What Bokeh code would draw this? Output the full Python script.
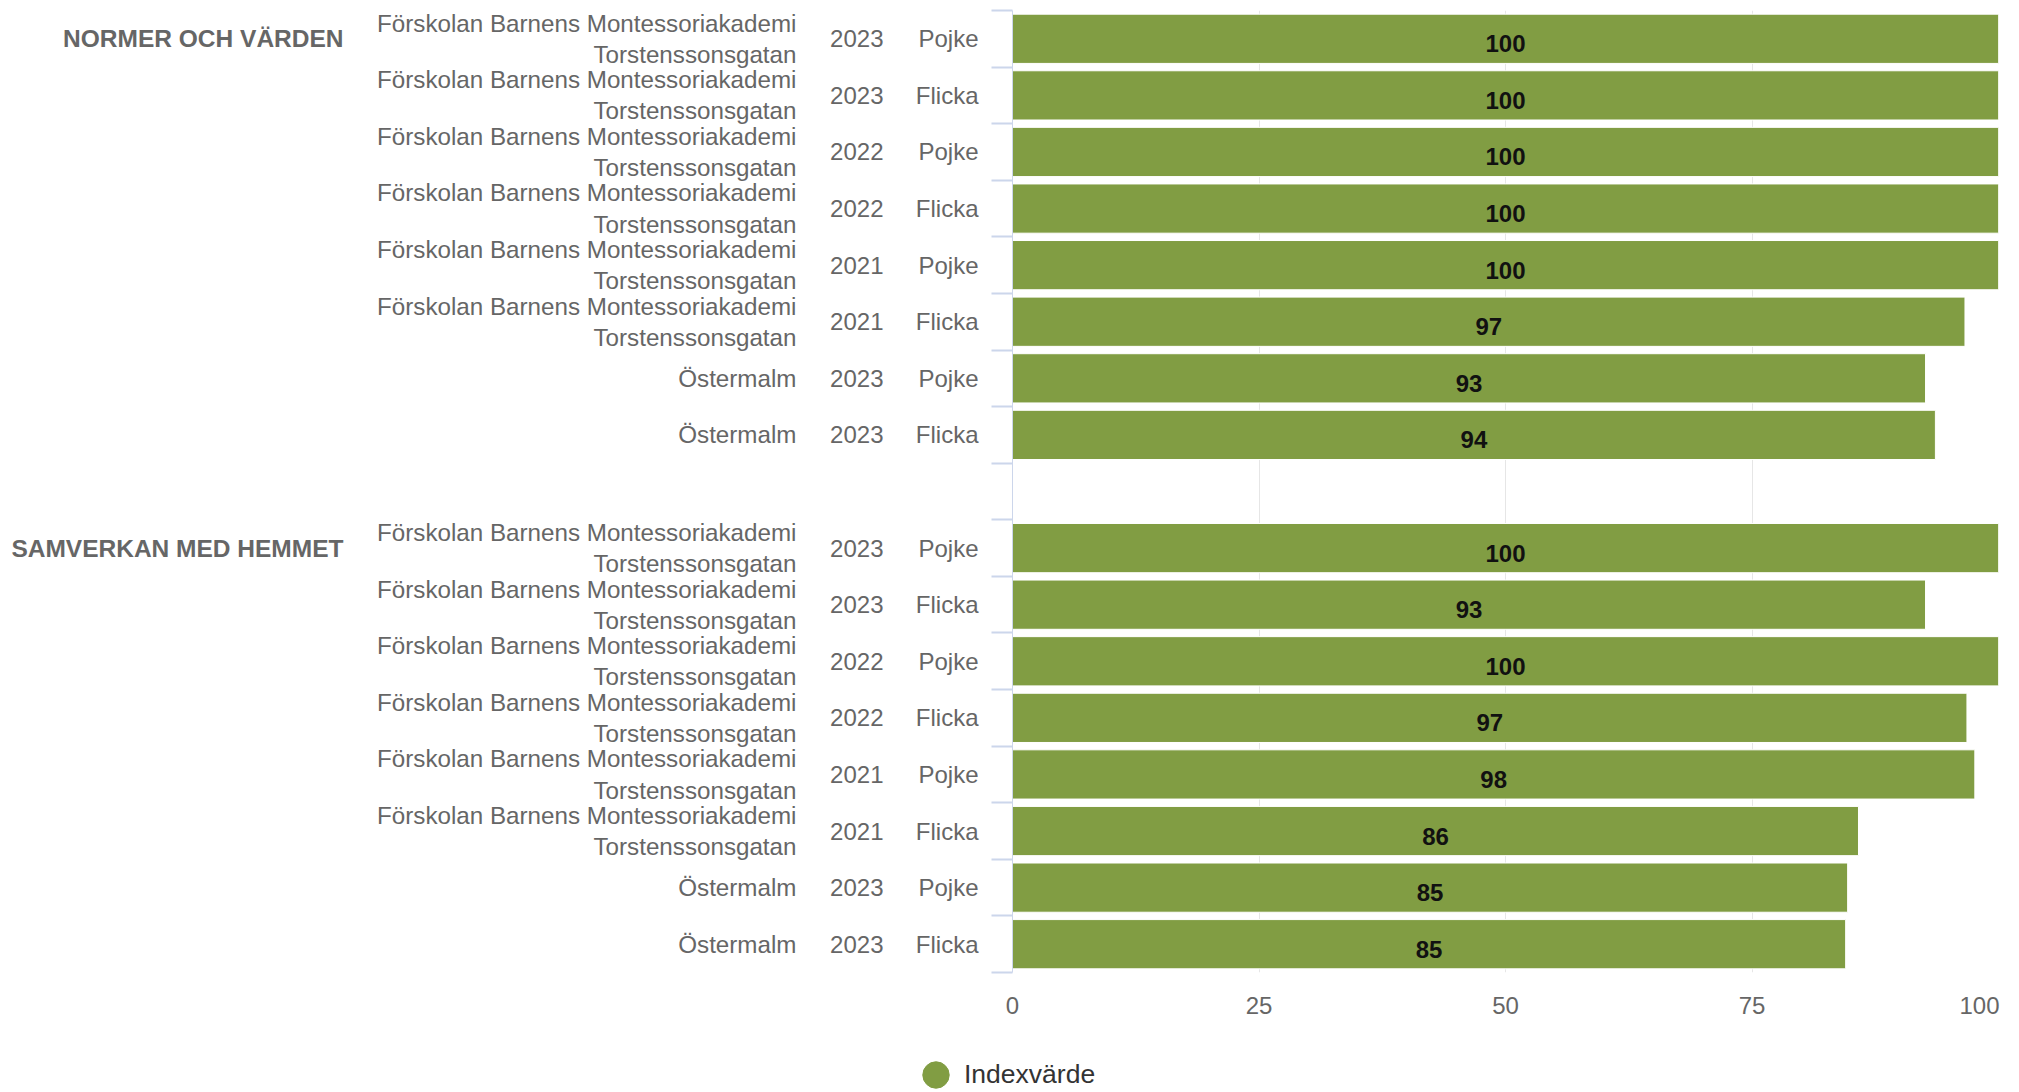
from bokeh.plotting import figure
from bokeh.models import (Range1d, FixedTicker, LinearAxis, Legend, LegendItem,
                          ColumnDataSource, AllLabels)
from bokeh.layouts import column
from bokeh.embed import file_html
from bokeh.resources import INLINE
from bokeh.core.properties import value

# ---------------- data ----------------
group_names = ["NORMER OCH VÄRDEN", "SAMVERKAN MED HEMMET"]
schools = ["Förskolan Barnens Montessoriakademi\nTorstenssonsgatan"] * 6 + ["Östermalm"] * 2
years = ["2023", "2023", "2022", "2022", "2021", "2021", "2023", "2023"]
genders = ["Pojke", "Flicka", "Pojke", "Flicka", "Pojke", "Flicka", "Pojke", "Flicka"]
values_normer = [100, 100, 100, 100, 100, 96.6, 92.6, 93.6]
values_samverkan = [100, 92.6, 100, 96.8, 97.6, 85.8, 84.7, 84.5]
x_ticks = [0, 25, 50, 75, 100]
x_tick_labels = ["0", "25", "50", "75", "100"]
legend_label = "Indexvärde"

GREEN = "#819d43"
LABEL_GRAY = "#666666"
FONT = "Liberation Sans"
SLOT = 10.0
LINE_OFF = 2.75
W = 2019
FRAME_L, FRAME_R = 1012, 21

# ---------------- rows ----------------
ys, vals, lbls = [], [], []
gender_over, year_over, school_over, group_over = {}, {}, {}, {}
school_ticks, group_ticks, bounds = [], [], set()
for g, gvals in enumerate([values_normer, values_samverkan]):
    for i, v in enumerate(gvals):
        slot = g * (len(gvals) + 1) + i
        y = -slot * SLOT
        ys.append(y)
        vals.append(v)
        lbls.append(str(int(v + 0.5)))
        gender_over[y] = genders[i]
        year_over[y] = years[i]
        parts = schools[i].split("\n")
        if len(parts) == 2:
            school_ticks += [y + LINE_OFF, y - LINE_OFF]
            school_over[y + LINE_OFF] = parts[0]
            school_over[y - LINE_OFF] = parts[1]
        else:
            school_ticks.append(y)
            school_over[y] = parts[0]
        if i == 0:
            group_ticks.append(y)
            group_over[y] = group_names[g]
        bounds.add(y + SLOT / 2)
        bounds.add(y - SLOT / 2)

src = ColumnDataSource(dict(y=ys, v=vals, xc=[v / 2 for v in vals], lbl=lbls))

n_slots = len(values_normer) + 1 + len(values_samverkan)
p = figure(width=W, height=1042,
           x_range=Range1d(0, 100),
           y_range=Range1d(-(n_slots - 0.5) * SLOT, SLOT / 2),
           output_backend="svg", toolbar_location=None,
           min_border_left=FRAME_L, min_border_right=FRAME_R, min_border_top=10, min_border_bottom=70)
p.outline_line_color = None
p.background_fill_color = "white"
p.border_fill_color = "white"

# x axis
xa = p.xaxis[0]
xa.ticker = FixedTicker(ticks=x_ticks)
# last label kept inside the chart like the original (it ends at the plot edge)
xa.major_label_overrides = {t: (l if t != x_ticks[-1] else l + "\u00a0" * 3)
                            for t, l in zip(x_ticks, x_tick_labels)}
xa.axis_line_color = None
xa.major_tick_line_color = None
xa.minor_tick_line_color = None
xa.major_tick_out = 0
xa.major_tick_in = 0
xa.major_label_standoff = 19
xa.major_label_text_font = FONT
xa.major_label_text_font_size = "24px"
xa.major_label_text_color = LABEL_GRAY
p.xgrid.grid_line_color = "#e6e6e6"
p.xgrid.grid_line_width = 1
p.ygrid.visible = False

# bars
p.hbar(y="y", left=0, right="v", height=SLOT * 0.87, source=src,
       fill_color=GREEN, line_color="white", line_width=1)
p.text(x="xc", y="y", text="lbl", source=src, text_font=value(FONT), text_font_style="bold",
       text_font_size="24px", text_align="center", text_baseline="middle",
       text_color="#111111", y_offset=5)

# y axes
def style_label_axis(a, over, standoff, size="24px", bold=False):
    a.major_label_overrides = over
    a.major_label_policy = AllLabels()
    a.major_tick_line_color = None
    a.major_tick_out = 0
    a.major_tick_in = 0
    a.major_label_standoff = standoff
    a.major_label_text_font = FONT
    a.major_label_text_font_size = size
    a.major_label_text_color = LABEL_GRAY
    if bold:
        a.major_label_text_font_style = "bold"

ya = p.yaxis[0]
ya.ticker = FixedTicker(ticks=sorted(ys), minor_ticks=sorted(bounds))
style_label_axis(ya, gender_over, 13)
ya.axis_line_color = "#ccd6eb"
ya.minor_tick_line_color = "#ccd6eb"
ya.minor_tick_line_width = 2
ya.minor_tick_out = 21
ya.minor_tick_in = 0

for ticks, over, st, size, bold in [(ys, year_over, 29, "24px", False),
                                    (school_ticks, school_over, 31, "24.2px", False),
                                    (group_ticks, group_over, 31, "24.5px", True)]:
    a = LinearAxis(ticker=FixedTicker(ticks=sorted(ticks)))
    style_label_axis(a, over, st, size, bold)
    a.axis_line_color = None
    a.minor_tick_line_color = None
    a.minor_tick_out = 0
    a.minor_tick_in = 0
    p.add_layout(a, "left")

# ---------------- legend strip ----------------
LH = 50
p2 = figure(width=W, height=LH, x_range=Range1d(0, W), y_range=Range1d(1000, 1000 + LH),
            x_axis_location=None, y_axis_location=None,
            output_backend="svg", toolbar_location=None, min_border=0)
try:
    p2.frame_align = False
except AttributeError:
    pass
p2.grid.visible = False
p2.outline_line_color = None
p2.background_fill_color = "white"
p2.border_fill_color = "white"
# legend marker keyed to the series data (its points fall outside this strip's ranges)
dot = p2.ellipse(x="v", y="y", source=src, width=26, height=26,
                 width_units="screen", height_units="screen",
                 fill_color=GREEN, line_color=GREEN)
leg = Legend(items=[LegendItem(label=legend_label, renderers=[dot])],
             location=(919, 1), orientation="horizontal",
             glyph_width=33, glyph_height=33, label_standoff=12,
             padding=0, margin=0, border_line_color=None, background_fill_alpha=0,
             label_text_font=FONT, label_text_font_size="26.5px", label_text_color="#333333",
             label_text_baseline="middle")
p2.add_layout(leg)

layout = column(p, p2, spacing=0)
open("out.html", "w").write(file_html(layout, INLINE))
